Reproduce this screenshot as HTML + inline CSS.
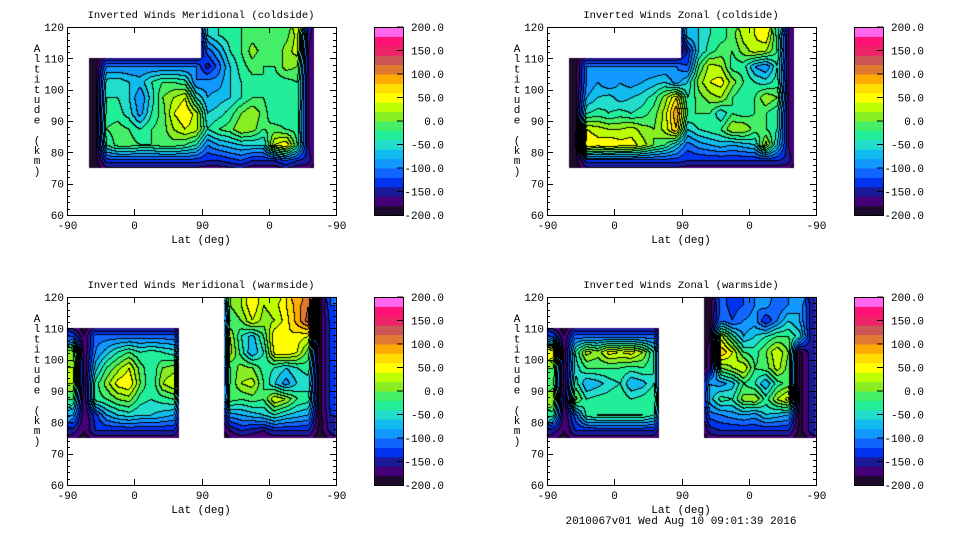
<!DOCTYPE html>
<html><head><meta charset="utf-8">
<style>
html,body{margin:0;padding:0;background:#fff;}
#wrap{position:relative;width:960px;height:540px;overflow:hidden;}
canvas,svg{position:absolute;left:0;top:0;}
text{font-family:"Liberation Mono",monospace;font-size:11px;fill:#000;}
text.ttl{font-size:10.5px;}
</style></head>
<body>
<div id="wrap">
<canvas id="cv" width="960" height="540"></canvas>
<svg id="sv" width="960" height="540"></svg>
</div>
<script>
const N = null;
const altTicks = [60,70,80,90,100,110,120];
const latTickLabels = ["-90","0","90","0","-90"];
const cbarTicks = [200,150,100,50,0,-50,-100,-150,-200];
const levelColors = ["#1e0a2c","#440077","#1a1a99","#0033ee","#1166ff","#1199ff","#11bbee","#22ddcc","#22ee99","#44ee66","#88ee22","#bbff00","#ffff00","#ffdd00","#ffaa00","#e07a30","#cc5555","#ee2266","#ff1177","#ff66ee"];
const titles = ["Inverted Winds Meridional (coldside)","Inverted Winds Zonal (coldside)","Inverted Winds Meridional (warmside)","Inverted Winds Zonal (warmside)"];
const M9 = v => [v,v,v,v,v,v,v,v,v];
const gridMerCold = [
 [N,N,N, ...M9(N), -60,-40,-30,-20,-10,-20,-20,-10,30,-150, N,N],
 [N,N,N, ...M9(N), -110,-80,-40,-20,10,-10,-20,10,30,-160, N,N],
 [N,N,-190, ...M9(-100), -150,-110,-60,-30,-10,-20,-20,10,0,-160, N,N],
 [N,N,-190, -50,-45,-60,-70,-40,-20,-20,-30,-100, -90,-90,-60,-40,-30,-20,-30,-30,-20,-160, N,N],
 [N,N,-190, -40,-40,-60,-100,-50,0,20,40,-40, -80,-70,-60,-40,-20,-20,-40,-30,-20,-160, N,N],
 [N,N,-190, -30,-30,-50,-90,-40,-10,40,60,30, -60,-50,-30,0,20,-10,-40,-40,-30,-160, N,N],
 [N,N,-190, -20,-10,-20,-40,-20,-10,20,40,30, -40,-20,-10,20,10,-20,-10,-20,-30,-160, N,N],
 [N,N,-190, -40,-10,-10,-20,-20,-10,-10,-20,-40, -100,-80,-70,-60,-60,-60,40,60,-20,-160, N,N],
 [N,N,-190, ...M9(-130), -140,-140,-130,-120,-140,-140,-140,-120,-140,-150, N,N]
];
const gridZonCold = [
 [N,N,N, ...M9(N), -70,-60,-40,-30,-10,30,40,60,-30,-160, N,N],
 [N,N,N, ...M9(N), -140,-60,-30,-10,-20,10,30,20,-20,-160, N,N],
 [N,N,-190, ...M9(-100), -120,-20,30,20,-30,-30,-80,-100,-40,-160, N,N],
 [N,N,-190, -100,-80,-100,-80,-90,-80,-70,-60,-90, -60,10,40,50,10,-20,-40,-50,-30,-160, N,N],
 [N,N,-190, -80,-60,-50,-70,-60,-50,-30,10,60, -40,-10,10,20,-20,-40,-20,20,0,-160, N,N],
 [N,N,-190, -40,-30,-40,-30,-40,-30,-10,30,100, -20,-20,-20,-60,-20,-30,-20,-20,-40,-160, N,N],
 [N,N,-190, 40,30,20,20,30,10,0,30,80, -60,-40,-30,-20,20,20,-10,-20,-40,-160, N,N],
 [N,N,-190, 60,50,60,50,50,30,0,-20,-60, -110,-90,-80,-70,-80,-70,-60,30,-60,-160, N,N],
 [N,N,-190, ...M9(-130), -140,-140,-140,-140,-140,-140,-140,-140,-140,-150, N,N]
];
const gridMerWarm = [
 [N,N, N,N,N,N,N,N,N,N, N,N,N,N, 0,20,60,20,30,60,90,120,-190,-120],
 [N,N, N,N,N,N,N,N,N,N, N,N,N,N, -20,0,40,10,20,50,90,130,-190,-130],
 [-120,-180, -110,-110,-110,-110,-110,-110,-110,-110, N,N,N,N, 20,-40,-70,-20,60,60,50,40,-190,-130],
 [10,-180, -100,-70,-40,-20,-40,-30,-40,-50, N,N,N,N, 30,-30,-80,-40,50,60,40,-10,-190,-130],
 [20,-180, -70,-20,10,40,-10,-40,0,10, N,N,N,N, -20,10,0,-30,-40,-60,-40,-30,-190,-130],
 [20,-180, -30,10,50,60,0,-40,20,40, N,N,N,N, -20,20,30,-20,-60,-90,-60,-50,-190,-130],
 [-20,-180, -30,-20,0,10,-30,-40,-30,-20, N,N,N,N, -10,-20,-10,-20,40,20,-20,-30,-190,-130],
 [-80,-180, -130,-80,-60,-50,-60,-60,-70,-80, N,N,N,N, -90,-80,-70,-60,-40,-60,-70,-80,-190,-140],
 [-150,-180, -140,-140,-140,-140,-140,-140,-140,-140, N,N,N,N, -160,-140,-150,-160,-140,-140,-140,-140,-190,-150]
];
const gridZonWarm = [
 [N,N, N,N,N,N,N,N,N,N, N,N,N,N, -190,-110,-130,-120,-100,-90,-120,-100,-80,-150],
 [N,N, N,N,N,N,N,N,N,N, N,N,N,N, -190,-100,-120,-100,-90,-140,-100,-60,-80,-150],
 [-120,-180, -110,-110,-110,-110,-110,-110,-110,-110, N,N,N,N, -180,30,-30,-80,-60,-40,-20,-20,-50,-150],
 [60,-180, -40,30,10,50,40,50,20,-40, N,N,N,N, -170,80,40,-20,-30,0,40,0,-190,-150],
 [0,-180, -50,-20,-20,-20,-20,-30,-20,-40, N,N,N,N, -170,0,20,40,-20,-10,30,-10,-190,-150],
 [-10,-180, -30,-80,-70,-50,-40,-80,-70,-40, N,N,N,N, -80,-90,-70,-20,-40,-80,-30,-10,-190,-150],
 [20,-180, 10,-40,-30,-30,-20,-40,-30,-20, N,N,N,N, -70,-30,-40,10,20,-30,20,50,-190,-150],
 [-30,-180, -110,-30,-20,-20,-20,-20,-20,-40, N,N,N,N, -110,-100,-90,-80,-90,-60,-70,-80,-190,-150],
 [-150,-180, -140,-140,-140,-140,-140,-140,-140,-140, N,N,N,N, -150,-140,-140,-140,-140,-140,-140,-140,-190,-150]
];
const grids = [gridMerCold, gridZonCold, gridMerWarm, gridZonWarm];
const origins = [[67,27],[547,27],[67,297],[547,297]];
const PW = 269, PH = 188, CELL_U = 15, CELL_ALT = 5, EDGE_VAL = -200;
function xScale(ox,u){return ox + u*PW/360;}
function yScale(oy,alt){return oy + (120-alt)*PH/60;}
function level(v){let l=Math.floor((v+200)/20);return Math.max(0,Math.min(19,l));}
function hex(c){return [parseInt(c.substr(1,2),16),parseInt(c.substr(3,2),16),parseInt(c.substr(5,2),16)];}
const rgb = levelColors.map(hex);

const cv = document.getElementById('cv');
const ctx = cv.getContext('2d');
const img = ctx.createImageData(960,540);
for(let i=0;i<img.data.length;i+=4){img.data[i]=255;img.data[i+1]=255;img.data[i+2]=255;img.data[i+3]=255;}
grids.forEach((g,pi)=>{
  const [ox,oy]=origins[pi];
  const rows=g.length, cols=g[0].length;
  const lv=[];
  for(let py=0;py<PH;py++){
    lv.push([]);
    for(let px=0;px<PW;px++){
      const u=(px+0.5)*360/PW, alt=120-(py+0.5)*60/PH;
      const c=Math.floor(u/CELL_U), r=Math.floor((120-alt)/CELL_ALT);
      if(r<0||r>=rows||c<0||c>=cols||g[r][c]===null){lv[py].push(-1);continue;}
      const own=g[r][c];
      const fu=u/CELL_U-0.5, fr=(120-alt)/CELL_ALT-0.5;
      const c0=Math.floor(fu), r0=Math.floor(fr), tx=fu-c0, ty=fr-r0;
      const get=(rr,cc)=>{
        if(cc<0||cc>=cols) return own;
        if(rr<0) return own;
        if(rr>=rows) return EDGE_VAL;
        return g[rr][cc]!==null?g[rr][cc]:EDGE_VAL;
      };
      const v=(1-ty)*((1-tx)*get(r0,c0)+tx*get(r0,c0+1))+ty*((1-tx)*get(r0+1,c0)+tx*get(r0+1,c0+1));
      lv[py].push(level(v));
    }
  }
  for(let py=0;py<PH;py++)for(let px=0;px<PW;px++){
    const L=lv[py][px]; if(L<0)continue;
    let col=rgb[L];
    if((px>0&&lv[py][px-1]>=0&&lv[py][px-1]!==L)||(py>0&&lv[py-1][px]>=0&&lv[py-1][px]!==L))col=[0,0,0];
    const idx=((oy+py)*960+(ox+px))*4;
    img.data[idx]=col[0];img.data[idx+1]=col[1];img.data[idx+2]=col[2];
  }
});
ctx.putImageData(img,0,0);

const sv=document.getElementById('sv');
const NS='http://www.w3.org/2000/svg';
function mk(tag,attrs,parent){const e=document.createElementNS(NS,tag);for(const k in attrs)e.setAttribute(k,attrs[k]);(parent||sv).appendChild(e);return e;}
function txt(x,y,s,anchor,parent){const t=mk('text',{x:x,y:y,'text-anchor':anchor||'middle'},parent);t.textContent=s;return t;}
origins.forEach(([ox,oy],pi)=>{
  const grp=mk('g',{});
  
  
  const fr=mk('rect',{x:ox+0.5,y:oy+0.5,width:PW,height:PH,fill:'none',stroke:'#000','stroke-width':1},grp);
  
  
  const t=txt(ox+134,oy-9,titles[pi],'middle',grp);
  t.setAttribute('class','ttl');
  
  
  for(let a=60;a<=120;a+=2){
    const y=Math.round(yScale(oy,a))+0.5, len=(a%10===0)?6:3;
    mk('line',{x1:ox,y1:y,x2:ox+len,y2:y,stroke:'#000'},grp);
    mk('line',{x1:ox+PW,y1:y,x2:ox+PW-len,y2:y,stroke:'#000'},grp);
  }
  altTicks.forEach(a=>{
    const l=txt(ox-3,yScale(oy,a)+4,String(a),'end',grp);
    
    
  });
  latTickLabels.forEach((s,i)=>{
    const x=Math.round(xScale(ox,i*90))+0.5;
    mk('line',{x1:x,y1:oy+PH,x2:x,y2:oy+PH-6,stroke:'#000'},grp);
    mk('line',{x1:x,y1:oy,x2:x,y2:oy+6,stroke:'#000'},grp);
    const l=txt(x,oy+PH+14,s,'middle',grp);
    
    
  });
  const xt=txt(ox+134,oy+PH+28,'Lat (deg)','middle',grp);
  
  
  const yl="Altitude (km)";
  const yg=mk('g',{},grp);
  
  
  for(let i=0;i<yl.length;i++){ if(yl[i]!==' ') txt(ox-30,oy+25+i*10.2,yl[i],'middle',yg); }
  const cx=ox+307, cw=29;
  const cb=mk('g',{},grp);
  
  
  levelColors.forEach((c,i)=>{
    const y0=oy+PH-(i+1)*PH/20;
    mk('rect',{x:cx,y:y0,width:cw,height:PH/20+0.5,fill:c},cb);
  });
  mk('rect',{x:cx+0.5,y:oy+0.5,width:cw,height:PH,fill:'none',stroke:'#000'},cb);
  cbarTicks.forEach(v=>{
    const y=oy+(200-v)*PH/400;
    mk('line',{x1:cx+cw-6,y1:y,x2:cx+cw,y2:y,stroke:'#000'},cb);
    const l=txt(cx+70,y+4,v.toFixed(1),'end',cb);
    
    
  });
});
const ft=txt(681,524,'2010067v01 Wed Aug 10 09:01:39 2016','middle');


</script>
</body></html>
